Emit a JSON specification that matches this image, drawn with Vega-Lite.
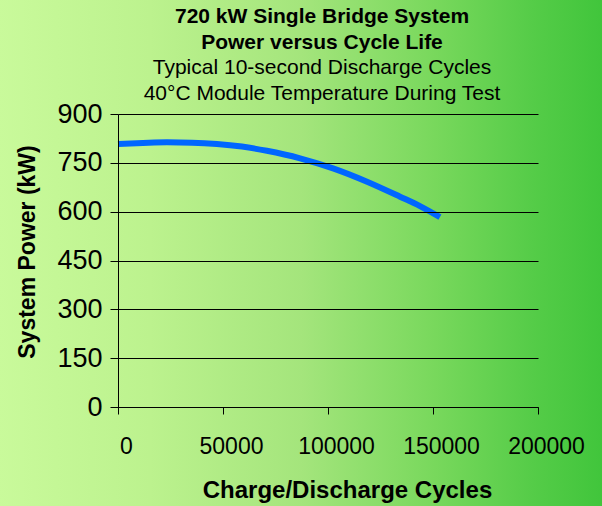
{
  "$schema": "https://vega.github.io/schema/vega-lite/v6.json",
  "width": 420,
  "height": 293,
  "autosize": "none",
  "padding": {"left": 118, "top": 114, "right": 64, "bottom": 99},
  "background": "#9fe27a",
  "title": {
    "text": ["720 kW Single Bridge System", "Power versus Cycle Life"],
    "subtitle": ["Typical 10-second Discharge Cycles", "40°C Module Temperature During Test"],
    "font": "Liberation Sans",
    "fontSize": 21,
    "fontWeight": "bold",
    "color": "#000000",
    "subtitleFont": "Liberation Sans",
    "subtitleFontSize": 21,
    "subtitleFontWeight": "normal",
    "subtitleColor": "#000000",
    "lineHeight": 26,
    "subtitleLineHeight": 26,
    "subtitlePadding": 4,
    "offset": 8,
    "dx": -6,
    "dy": 115,
    "anchor": "middle",
    "frame": "group",
    "zindex": 1
  },
  "config": {
    "view": {"stroke": null},
    "axis": {
      "domainColor": "#000000",
      "tickColor": "#000000",
      "labelColor": "#000000",
      "titleColor": "#000000",
      "labelFont": "Liberation Sans",
      "titleFont": "Liberation Sans",
      "domainWidth": 1,
      "tickWidth": 1,
      "labelOverlap": false,
      "labelFlush": false
    }
  },
  "layer": [
    {
      "data": {"values": [{"bg": 1}]},
      "mark": {
        "type": "rect",
        "clip": false,
        "fill": {
          "gradient": "linear",
          "x1": 0, "y1": 0, "x2": 1, "y2": 0,
          "stops": [
            {"offset": 0, "color": "#c9fa9b"},
            {"offset": 0.25, "color": "#bcf28e"},
            {"offset": 0.5, "color": "#a4e57c"},
            {"offset": 0.72, "color": "#78d85c"},
            {"offset": 0.88, "color": "#55cc48"},
            {"offset": 1, "color": "#40c53b"}
          ]
        }
      },
      "encoding": {
        "x": {"datum": -57000, "type": "quantitative", "scale": {"domain": [0, 200000], "nice": false},
              "axis": {"zindex": 1, "values": [0, 50000, 100000, 150000, 200000], "format": "d", "title": "Charge/Discharge Cycles", "grid": false, "labelFontSize": 23, "labelPadding": 21, "labelOffset": 8, "tickSize": 7, "titleFontSize": 24, "titleFontWeight": "bold", "titleX": 229, "titleY": 90, "titleAlign": "center", "titleBaseline": "alphabetic"}},
        "x2": {"datum": 232000},
        "y": {"datum": 1260, "type": "quantitative", "scale": {"domain": [0, 900], "nice": false},
              "axis": {"zindex": 1, "values": [0, 150, 300, 450, 600, 750, 900], "title": "System Power (kW)", "grid": true, "gridColor": "#000000", "gridWidth": 1, "gridOpacity": 1, "labelFontSize": 27, "labelPadding": 8, "tickSize": 8, "titleFontSize": 23, "titleFontWeight": "bold", "titleX": -84, "titleY": 137.5, "titleAlign": "center", "titleBaseline": "alphabetic", "titleAngle": 270}},
        "y2": {"datum": -320}
      }
    },
    {
      "data": {"values": [
        {"cycles": 0, "power": 808},
        {"cycles": 11900, "power": 811},
        {"cycles": 23300, "power": 813},
        {"cycles": 35200, "power": 812},
        {"cycles": 47100, "power": 808},
        {"cycles": 59000, "power": 800},
        {"cycles": 70900, "power": 787},
        {"cycles": 86700, "power": 764},
        {"cycles": 102400, "power": 733},
        {"cycles": 118600, "power": 692},
        {"cycles": 134300, "power": 646},
        {"cycles": 143800, "power": 617},
        {"cycles": 153300, "power": 583}
      ]},
      "mark": {"type": "line", "color": "#0066ff", "strokeWidth": 6, "interpolate": "monotone", "strokeCap": "butt"},
      "encoding": {
        "x": {"field": "cycles", "type": "quantitative", "scale": {"domain": [0, 200000], "nice": false},
              "axis": {"zindex": 1, "values": [0, 50000, 100000, 150000, 200000], "format": "d", "title": "Charge/Discharge Cycles", "grid": false, "labelFontSize": 23, "labelPadding": 21, "labelOffset": 8, "tickSize": 7, "titleFontSize": 24, "titleFontWeight": "bold", "titleX": 229, "titleY": 90, "titleAlign": "center", "titleBaseline": "alphabetic"}},
        "y": {"field": "power", "type": "quantitative", "scale": {"domain": [0, 900], "nice": false},
              "axis": {"zindex": 1, "values": [0, 150, 300, 450, 600, 750, 900], "title": "System Power (kW)", "grid": true, "gridColor": "#000000", "gridWidth": 1, "gridOpacity": 1, "labelFontSize": 27, "labelPadding": 8, "tickSize": 8, "titleFontSize": 23, "titleFontWeight": "bold", "titleX": -84, "titleY": 137.5, "titleAlign": "center", "titleBaseline": "alphabetic", "titleAngle": 270}}
      }
    }
  ]
}
